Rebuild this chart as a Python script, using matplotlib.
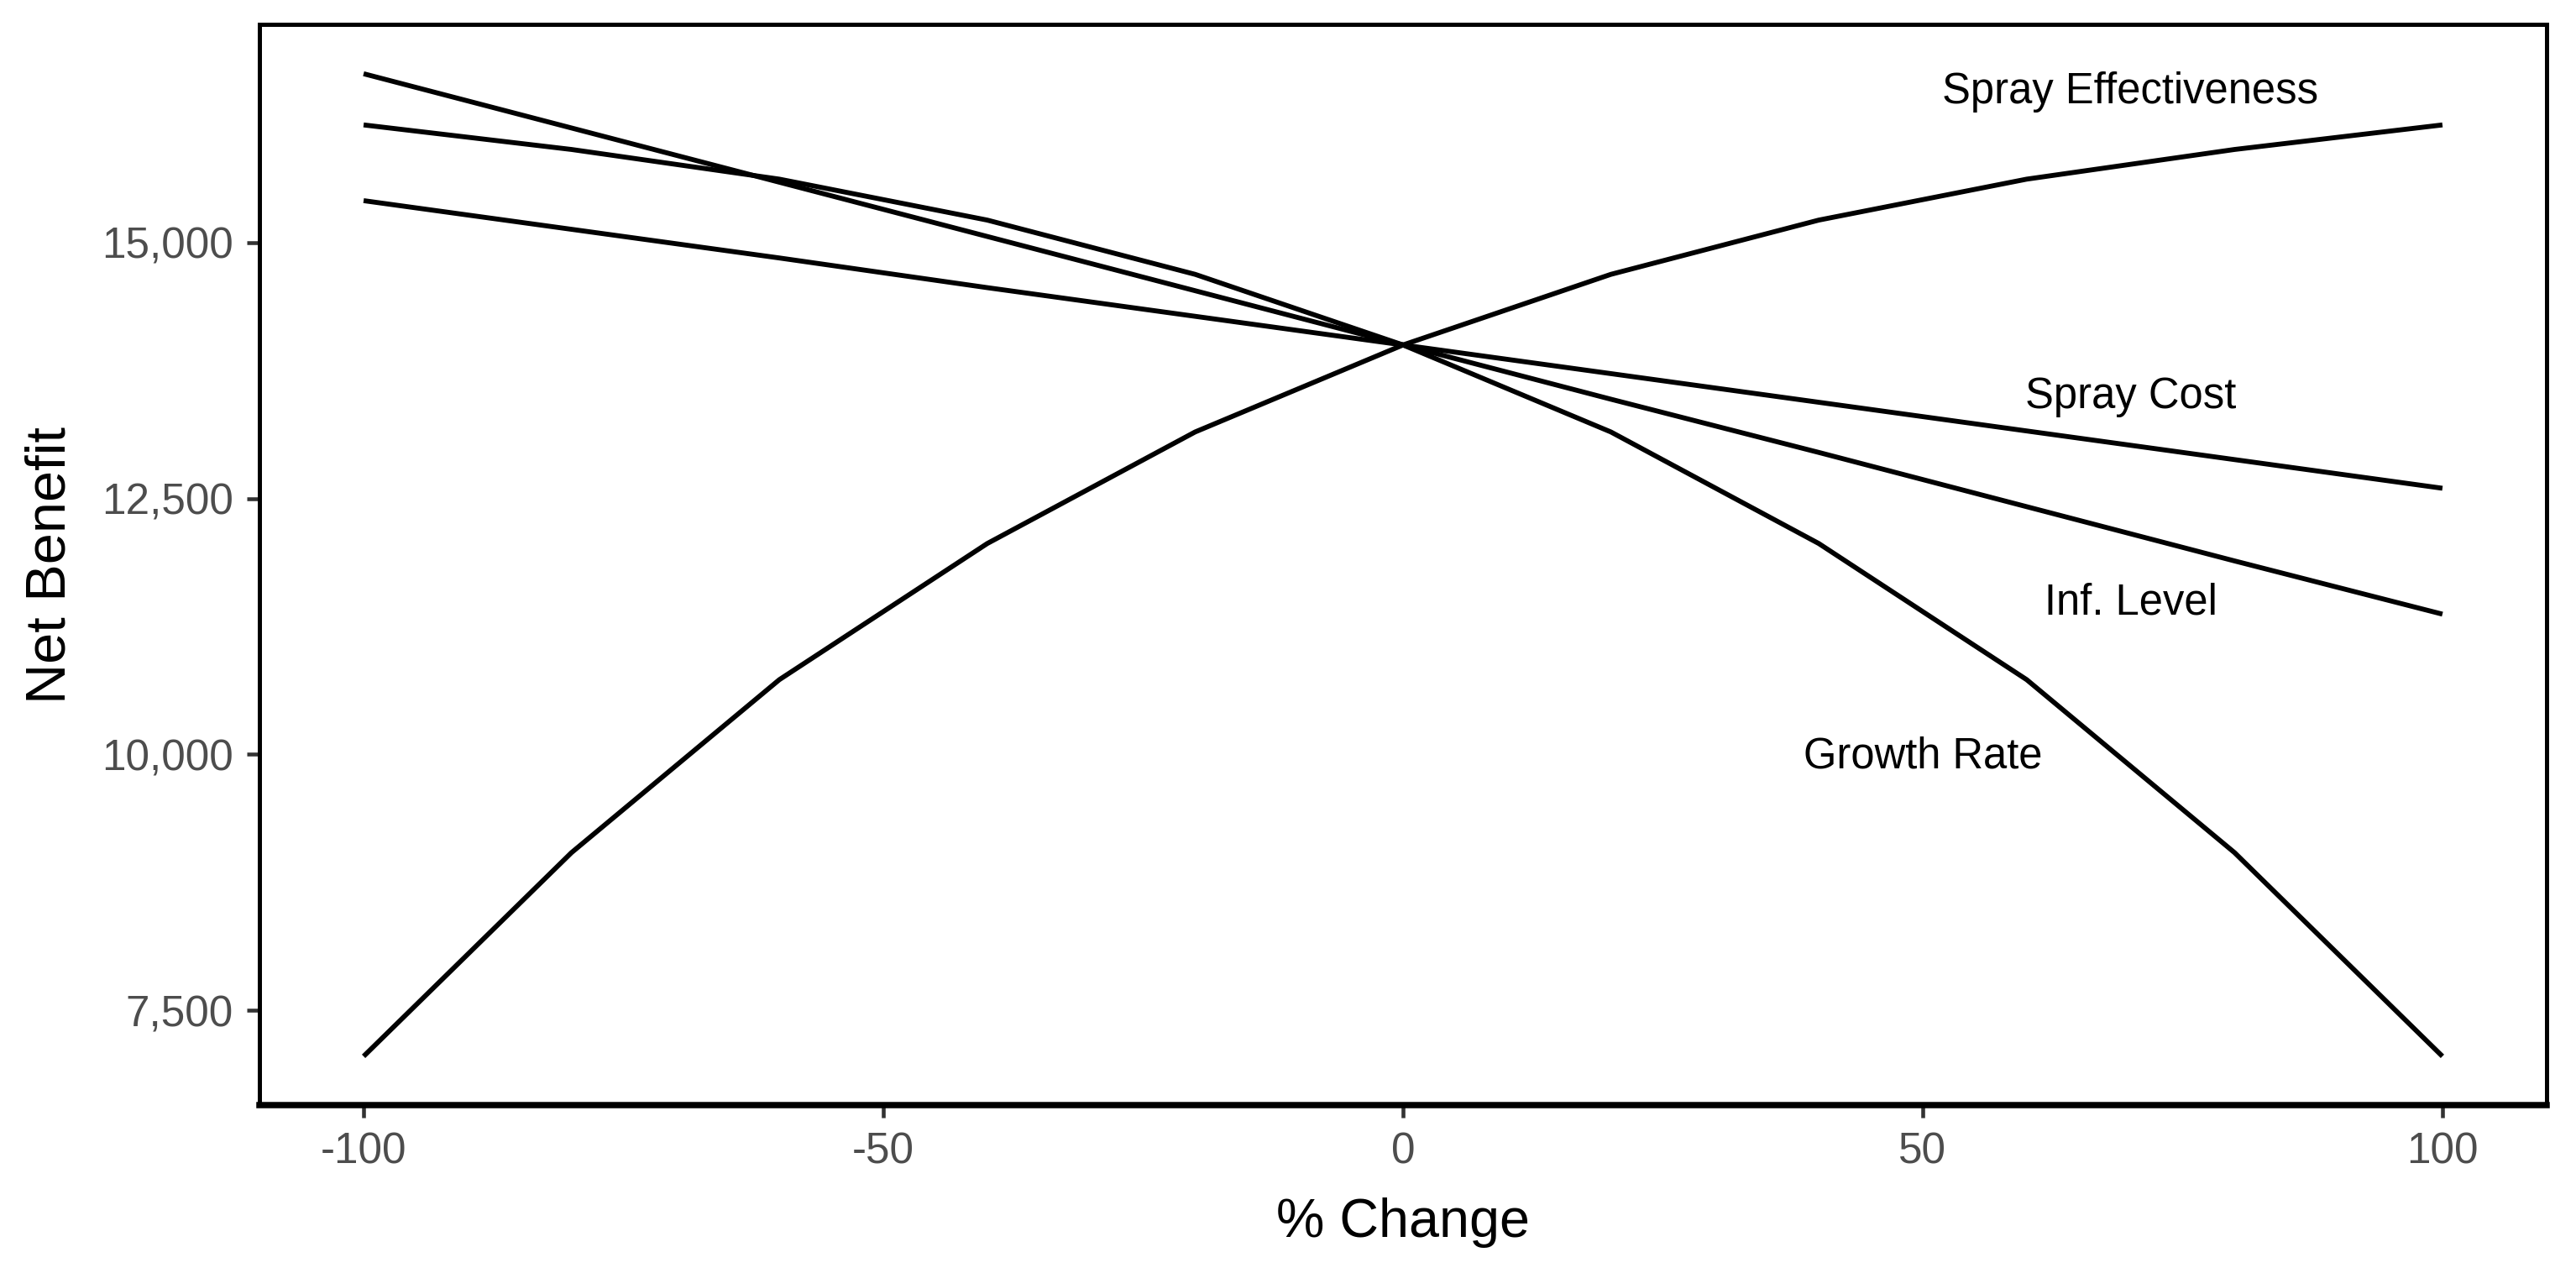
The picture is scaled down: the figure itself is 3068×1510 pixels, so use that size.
import matplotlib
matplotlib.use('Agg')
import matplotlib.pyplot as plt
import numpy as np

plt.rcParams['font.family'] = ['Liberation Sans Narrow', 'Liberation Sans', 'DejaVu Sans']
plt.rcParams['axes.unicode_minus'] = False

# % change steps
pct = [-100, -80, -60, -40, -20, 0, 20, 40, 60, 80, 100]

# net benefit
spray_eff = [7050, 9040, 10730, 12060, 13150, 14000, 14690, 15220, 15620, 15910, 16150]
growth_rate = [16150, 15910, 15620, 15220, 14690, 14000, 13150, 12060, 10730, 9040, 7050]
inf_level = [16650, 16120, 15590, 15060, 14530, 14000, 13470, 12950, 12420, 11890, 11370]
spray_cost = [15410, 15130, 14850, 14560, 14280, 14000, 13720, 13440, 13160, 12880, 12600]

labels = ['Spray Effectiveness', 'Spray Cost', 'Inf. Level', 'Growth Rate']
label_x = [70, 70, 70, 50]
label_y = [16470, 13490, 11480, 9980]

fig = plt.figure(figsize=(3068/300, 1510/300), dpi=300)
ax = fig.add_axes([0.1008, 0.1282, 0.8877, 0.8524])

for s in [spray_eff, growth_rate, inf_level, spray_cost]:
    ax.plot(pct, s, color='black', lw=1.4, solid_capstyle='butt')

for t, x, y in zip(labels, label_x, label_y):
    ax.text(x, y, t, ha='center', va='center', fontsize=12.2, color='black')

ax.set_xlim(-110, 110)
ax.set_ylim(6570, 17130)
ax.set_xticks([-100, -50, 0, 50, 100])
ax.set_yticks([7500, 10000, 12500, 15000])
ax.set_yticklabels(['7,500', '10,000', '12,500', '15,000'])
ax.tick_params(axis='both', colors='#333333', labelcolor='#4D4D4D', labelsize=12.3,
               length=3.5, width=1.1, direction='out', pad=4)
for sp in ax.spines.values():
    sp.set_color('black')
    sp.set_linewidth(1.2)
ax.spines['bottom'].set_linewidth(1.8)

ax.set_xlabel('% Change', fontsize=15.5, labelpad=7)
ax.set_ylabel('Net Benefit', fontsize=16, labelpad=7)

fig.savefig('out.png', dpi=300)
